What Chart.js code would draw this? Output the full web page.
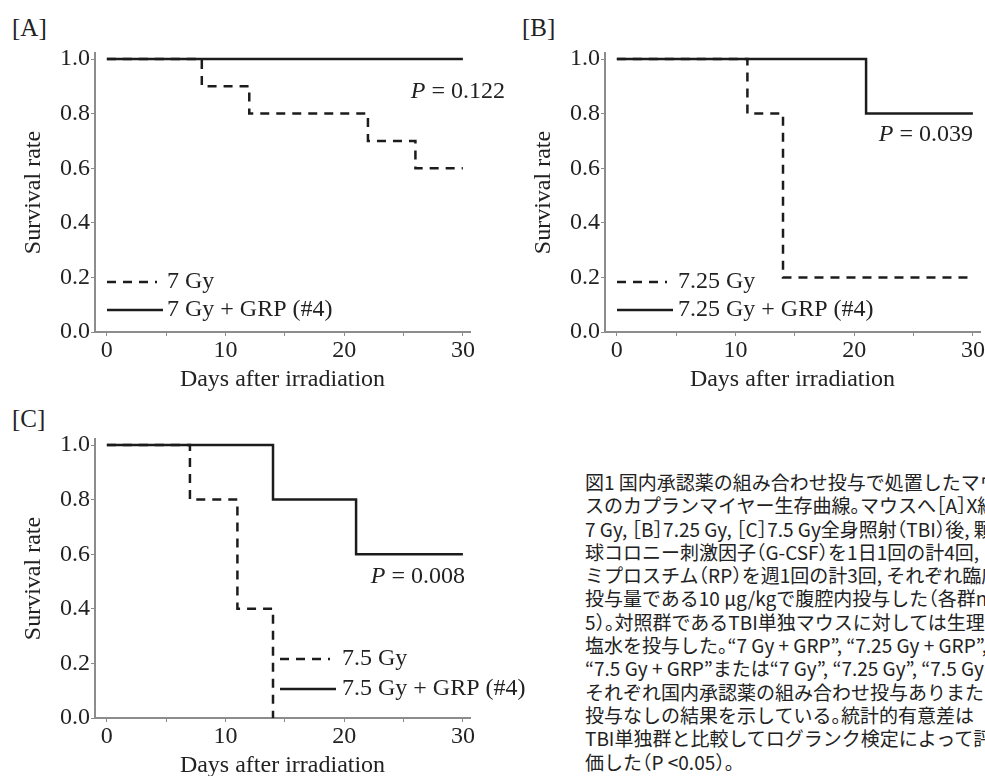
<!DOCTYPE html>
<html>
<head>
<meta charset="utf-8">
<script src="https://cdn.jsdelivr.net/npm/chart.js@4"></script>
<style>
  body { margin: 0; width: 985px; height: 776px; overflow: hidden; background: #fff; position: relative; }
  canvas { position: absolute; }
  .tag { position: absolute; font: 25px "Liberation Serif", serif; color: #222; line-height: 1; }
  #caption { position: absolute; left: 585px; top: 470px; width: 400px; overflow: hidden; white-space: nowrap;
             font-family: "Noto Sans CJK JP", sans-serif; font-size: 19px; line-height: 23.3px; color: #222;
             font-feature-settings: "halt"; }
</style>
</head>
<body>
<div class="tag" style="left:12px;top:15px">[A]</div>
<div class="tag" style="left:522px;top:15px">[B]</div>
<div class="tag" style="left:12px;top:406px">[C]</div>

<canvas id="chartA" width="520" height="400" style="left:0;top:0"></canvas>
<canvas id="chartB" width="485" height="400" style="left:500px;top:0"></canvas>
<canvas id="chartC" width="560" height="400" style="left:0;top:386px"></canvas>

<div id="caption">
  <div>図1 国内承認薬の組み合わせ投与で処置したマウ</div>
  <div>スのカプランマイヤー生存曲線。マウスへ［A］X線</div>
  <div>7 Gy, ［B］7.25 Gy, ［C］7.5 Gy全身照射（TBI）後, 顆粒</div>
  <div>球コロニー刺激因子（G-CSF）を1日1回の計4回, ロ</div>
  <div>ミプロスチム（RP）を週1回の計3回, それぞれ臨床</div>
  <div>投与量である10 μg/kgで腹腔内投与した（各群n =</div>
  <div>5）。対照群であるTBI単独マウスに対しては生理食</div>
  <div>塩水を投与した。“7 Gy + GRP”, “7.25 Gy + GRP”,</div>
  <div>“7.5 Gy + GRP”または“7 Gy”, “7.25 Gy”, “7.5 Gy”は</div>
  <div>それぞれ国内承認薬の組み合わせ投与ありまたは</div>
  <div>投与なしの結果を示している。統計的有意差は</div>
  <div>TBI単独群と比較してログランク検定によって評</div>
  <div>価した（P &lt;0.05）。</div>
</div>

<script>
// survival data (days, survival rate)
const daysA = [0, 8, 12, 22, 26, 30];
const survA = [1.0, 0.9, 0.8, 0.7, 0.6, 0.6];
const daysAGrp = [0, 30];
const survAGrp = [1.0, 1.0];

const daysB = [0, 11, 14, 30];
const survB = [1.0, 0.8, 0.2, 0.2];
const daysBGrp = [0, 21, 30];
const survBGrp = [1.0, 0.8, 0.8];

const daysC = [0, 7, 11, 14];
const survC = [1.0, 0.8, 0.4, 0.0];
const daysCGrp = [0, 14, 21, 30];
const survCGrp = [1.0, 0.8, 0.6, 0.6];

const labelsA = ["7 Gy", "7 Gy + GRP (#4)"];
const labelsB = ["7.25 Gy", "7.25 Gy + GRP (#4)"];
const labelsC = ["7.5 Gy", "7.5 Gy + GRP (#4)"];
const pValues = ["0.122", "0.039", "0.008"];

const xTicks = [0, 5, 10, 15, 20, 25, 30];
const yTicks = [0, 0.1, 0.2, 0.3, 0.4, 0.5, 0.6, 0.7, 0.8, 0.9, 1.0];

const serif = '"Liberation Serif", "Times New Roman", serif';
const ink = "#1c1c1c";
const axisGray = "#8c8c8c";
const fontSize = 24;

// legend lines + P value drawn inside the plot
const kmNotes = {
    id: "kmNotes",
    afterDatasetsDraw(chart, args, o) {
        const ctx = chart.ctx;
        ctx.save();
        ctx.font = fontSize + "px " + serif;
        ctx.fillStyle = "#222";
        ctx.textBaseline = "middle";
        chart.data.datasets.forEach(function (ds, i) {
            const y = o.legendY[i];
            ctx.strokeStyle = ds.borderColor;
            ctx.lineWidth = ds.borderWidth;
            ctx.setLineDash(ds.borderDash || []);
            ctx.beginPath();
            ctx.moveTo(o.legendX, y);
            ctx.lineTo(o.legendX + o.lineLen[i], y);
            ctx.stroke();
            ctx.setLineDash([]);
            ctx.textAlign = "left";
            ctx.fillText(ds.label, o.textX, y);
        });
        const rest = " = " + o.p;
        ctx.textAlign = "right";
        ctx.fillText(rest, o.pRight, o.pY);
        const w = ctx.measureText(rest).width;
        ctx.font = "italic " + fontSize + "px " + serif;
        ctx.fillText("P", o.pRight - w, o.pY);
        ctx.restore();
    }
};

function toPoints(xs, ys) {
    return xs.map(function (x, i) { return { x: x, y: ys[i] }; });
}

function makeChart(id, dashed, solid, labels, notes, box) {
    return new Chart(id, {
        type: "line",
        data: {
            datasets: [{
                label: labels[0],
                data: dashed,
                borderColor: ink,
                borderWidth: 2.5,
                borderDash: [9, 7],
                stepped: true,
                pointRadius: 0
            }, {
                label: labels[1],
                data: solid,
                borderColor: ink,
                borderWidth: 2.5,
                stepped: true,
                pointRadius: 0
            }]
        },
        options: {
            responsive: false,
            animation: false,
            layout: { padding: { left: 0, top: 53, right: box.right, bottom: 0 } },
            plugins: {
                legend: { display: false },
                tooltip: { enabled: false },
                kmNotes: notes
            },
            scales: {
                x: {
                    type: "linear",
                    min: -1,
                    max: 30.6,
                    afterBuildTicks: function (s) { s.ticks = xTicks.map(function (v) { return { value: v }; }); },
                    afterFit: function (s) { s.height = 68; },
                    ticks: {
                        autoSkip: false,
                        maxRotation: 0,
                        padding: 0,
                        color: "#222",
                        font: { family: serif, size: fontSize },
                        callback: function (v) { return v % 10 === 0 ? String(v) : ""; }
                    },
                    grid: { drawOnChartArea: false, tickLength: 4, color: axisGray },
                    border: { color: axisGray, width: 2 },
                    title: {
                        display: true,
                        text: "Days after irradiation",
                        color: "#222",
                        font: { family: serif, size: fontSize, lineHeight: 1.2 },
                        padding: { top: 0, bottom: 6 }
                    }
                },
                y: {
                    min: 0,
                    max: 1.022,
                    afterBuildTicks: function (s) { s.ticks = yTicks.map(function (v) { return { value: v }; }); },
                    afterFit: function (s) { s.width = box.axisW; },
                    ticks: {
                        padding: 1,
                        color: "#222",
                        font: { family: serif, size: fontSize },
                        callback: function (v) { return Math.round(v * 10) % 2 === 0 ? v.toFixed(1) : ""; }
                    },
                    grid: { drawOnChartArea: false, tickLength: 4, color: axisGray },
                    border: { color: axisGray, width: 2 },
                    title: {
                        display: true,
                        text: "Survival rate",
                        color: "#222",
                        font: { family: serif, size: fontSize, lineHeight: 1.2 },
                        padding: { top: box.titlePad, bottom: box.titlePad }
                    }
                }
            }
        },
        plugins: [kmNotes]
    });
}

makeChart("chartA", toPoints(daysA, survA), toPoints(daysAGrp, survAGrp), labelsA,
    { p: pValues[0], pRight: 505, pY: 92, legendX: 107, textX: 167, legendY: [282, 310], lineLen: [50, 56] },
    { right: 50, axisW: 95, titlePad: 19 });

makeChart("chartB", toPoints(daysB, survB), toPoints(daysBGrp, survBGrp), labelsB,
    { p: pValues[1], pRight: 473, pY: 135, legendX: 117, textX: 178, legendY: [282, 310], lineLen: [50, 56] },
    { right: 5, axisW: 105, titlePad: 29 });

makeChart("chartC", toPoints(daysC, survC), toPoints(daysCGrp, survCGrp), labelsC,
    { p: pValues[2], pRight: 465, pY: 191, legendX: 280, textX: 342, legendY: [273, 303], lineLen: [50, 56] },
    { right: 90, axisW: 95, titlePad: 19 });
</script>
</body>
</html>
